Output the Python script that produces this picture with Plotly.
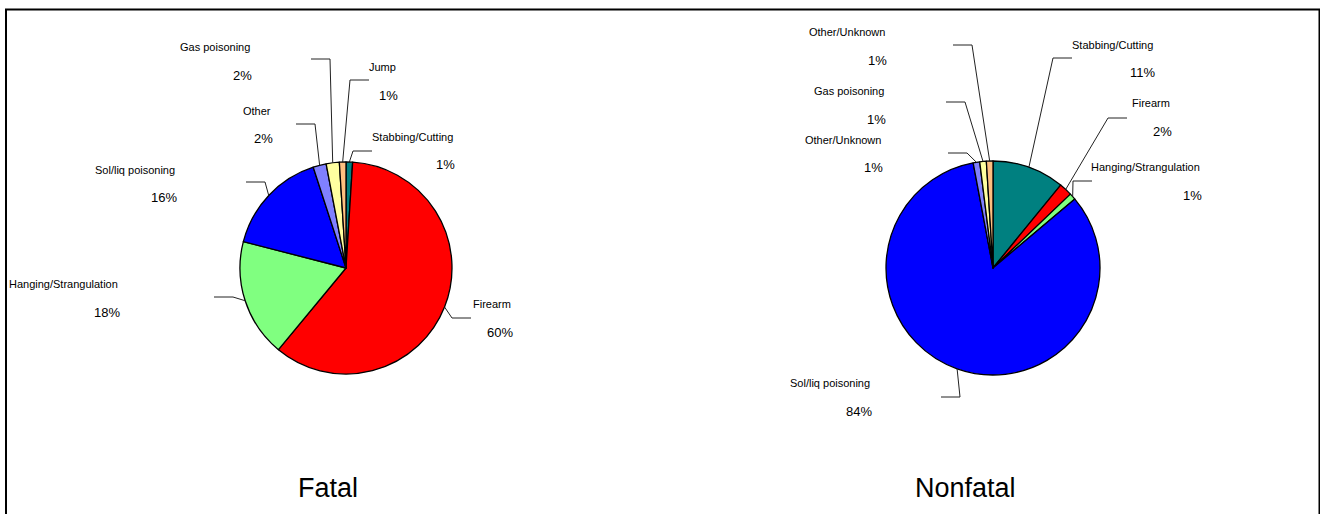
import math
import plotly.graph_objects as go

W, H = 1320, 514

# data
fatal_labels = ["Stabbing/Cutting", "Firearm", "Hanging/Strangulation", "Sol/liq poisoning",
                "Other", "Gas poisoning", "Jump"]
fatal_values = [1, 60, 18, 16, 2, 2, 1]

nonfatal_labels = ["Stabbing/Cutting", "Firearm", "Hanging/Strangulation", "Sol/liq poisoning",
                   "Other/Unknown", "Gas poisoning", "Other/Unknown"]
nonfatal_values = [11, 2, 1, 84, 1, 1, 1]

chart_titles = ["Fatal", "Nonfatal"]

slice_colors = ["#008080", "#FF0000", "#80FF80", "#0000FF", "#8080FF", "#FFFFA0", "#FFC080"]

FONT = "Liberation Sans Narrow, Arial Narrow, Liberation Sans, sans-serif"

# layout: pie centre/radius in px, and per-label (name right x, name mid y, elbow x, elbow y, side)
pies = [
    dict(cx=346, cy=268, r=106, title_x=328,
         labels_at=[(455, 137, 353, 151, 1), (513, 304, 452, 318, 1), (120, 284, 233, 297, -1),
                    (177, 170, 265, 182, -1), (273, 111, 315, 124, -1), (252, 47, 330, 59, -1),
                    (398, 67, 350, 80, 1)]),
    dict(cx=993, cy=268, r=107, title_x=965,
         labels_at=[(1155, 45, 1053, 58, 1), (1172, 103, 1108, 118, 1), (1202, 167, 1073, 181, 1),
                    (872, 383, 960, 397, -1), (883, 140, 967, 153, -1), (886, 91, 965, 102, -1),
                    (887, 32, 972, 45, -1)]),
]


def px(x, y):
    return x / W, 1 - y / H


fig = go.Figure()
annotations = []
shapes = []

for (labels, values, title), p in zip(
        [(fatal_labels, fatal_values, chart_titles[0]), (nonfatal_labels, nonfatal_values, chart_titles[1])],
        pies):
    cx, cy, r = p["cx"], p["cy"], p["r"]
    fig.add_trace(go.Pie(
        values=values,
        sort=False,
        direction="clockwise",
        rotation=0,
        textinfo="none",
        hovertext=labels,
        hoverinfo="text+percent",
        marker=dict(colors=slice_colors, line=dict(color="black", width=1.3)),
        domain=dict(x=[(cx - r) / W, (cx + r) / W], y=[1 - (cy + r) / H, 1 - (cy - r) / H]),
    ))

    total = sum(values)
    cum = 0
    for lab, v, (nx, ny, ex, ey, side) in zip(labels, values, p["labels_at"]):
        ang = math.radians(360 * (cum + v / 2) / total)
        cum += v
        sx, sy = cx + r * math.sin(ang), cy - r * math.cos(ang)
        hx = ex + side * 19
        pts = [px(sx, sy), px(ex, ey), px(hx, ey)]
        path = "M {} {} L {} {} L {} {}".format(*[c for pt in pts for c in pt])
        shapes.append(dict(type="path", path=path, xref="paper", yref="paper",
                           line=dict(color="#222222", width=1)))
        x0, y0 = px(nx, ny)
        annotations.append(dict(text=lab, x=x0, y=y0, xref="paper", yref="paper",
                                xanchor="right", yanchor="middle", showarrow=False,
                                font=dict(family=FONT, size=11, color="black")))
        x1, y1 = px(nx + 2, ny + 28)
        annotations.append(dict(text=f"{v}%", x=x1, y=y1, xref="paper", yref="paper",
                                xanchor="right", yanchor="middle", showarrow=False,
                                font=dict(family=FONT, size=13, color="black")))

    tx, ty = px(p["title_x"], 488)
    annotations.append(dict(text=title, x=tx, y=ty, xref="paper", yref="paper",
                            xanchor="center", yanchor="middle", showarrow=False,
                            font=dict(family=FONT, size=27, color="black")))

# outer frame (bottom runs off the page)
shapes.append(dict(type="rect", xref="paper", yref="paper",
                   x0=6 / W, x1=1319.5 / W, y0=-0.05, y1=1 - 9.5 / H,
                   line=dict(color="black", width=2)))

fig.update_layout(
    width=W, height=H,
    margin=dict(l=0, r=0, t=0, b=0),
    paper_bgcolor="white",
    plot_bgcolor="white",
    showlegend=False,
    annotations=annotations,
    shapes=shapes,
)

# drop the default page margin so the figure sits at the window's top-left corner
fig.write_html("out.html", config={"displayModeBar": False},
               post_script="document.body.style.margin='0';document.body.style.overflow='hidden';")
